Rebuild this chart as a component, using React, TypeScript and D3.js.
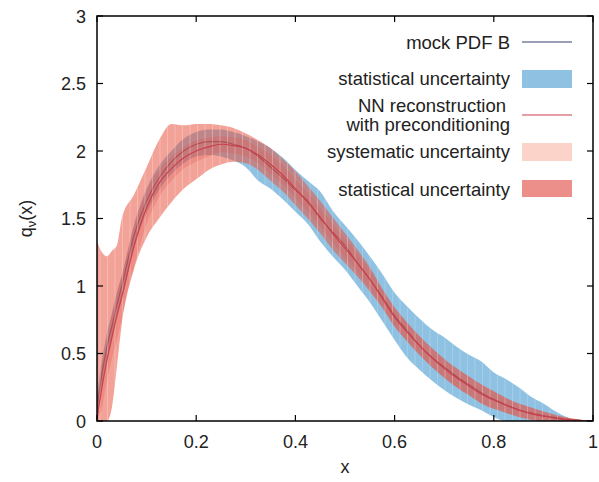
import React from "react";
import * as d3 from "d3";

const xs = [0, 0.01, 0.02, 0.03, 0.04, 0.05, 0.075, 0.1, 0.125, 0.15, 0.175, 0.2, 0.225, 0.25, 0.275, 0.3, 0.325, 0.35, 0.375, 0.4, 0.425, 0.45, 0.475, 0.5, 0.525, 0.55, 0.575, 0.6, 0.625, 0.65, 0.675, 0.7, 0.725, 0.75, 0.775, 0.8, 0.825, 0.85, 0.875, 0.9, 0.925, 0.95, 0.975, 1];

const mockPdf = [0.1, 0.35, 0.55, 0.7, 0.86, 1.0, 1.38, 1.63, 1.8, 1.92, 2.0, 2.05, 2.07, 2.07, 2.05, 2.02, 1.96, 1.88, 1.8, 1.71, 1.63, 1.5, 1.4, 1.3, 1.17, 1.05, 0.92, 0.78, 0.67, 0.56, 0.47, 0.4, 0.33, 0.27, 0.21, 0.16, 0.12, 0.085, 0.06, 0.04, 0.025, 0.012, 0.004, 0];

const nnCentral = [0.02, 0.25, 0.45, 0.62, 0.78, 0.92, 1.3, 1.58, 1.76, 1.87, 1.95, 2.0, 2.03, 2.05, 2.04, 2.02, 1.97, 1.9, 1.82, 1.72, 1.62, 1.51, 1.39, 1.28, 1.17, 1.05, 0.91, 0.77, 0.66, 0.56, 0.47, 0.39, 0.32, 0.26, 0.2, 0.155, 0.115, 0.08, 0.055, 0.035, 0.02, 0.01, 0.003, 0];

const blueHi = [0.2, 0.45, 0.65, 0.8, 0.95, 1.08, 1.46, 1.72, 1.89, 2.0, 2.09, 2.14, 2.16, 2.16, 2.14, 2.11, 2.07, 2.02, 1.95, 1.86, 1.78, 1.7, 1.56, 1.45, 1.34, 1.22, 1.09, 0.95, 0.85, 0.76, 0.68, 0.62, 0.55, 0.49, 0.44, 0.36, 0.31, 0.25, 0.18, 0.13, 0.07, 0.025, 0.005, 0];
const blueLo = [0, 0.25, 0.45, 0.6, 0.76, 0.9, 1.28, 1.54, 1.71, 1.83, 1.91, 1.96, 1.97, 1.96, 1.93, 1.88, 1.78, 1.72, 1.64, 1.55, 1.46, 1.33, 1.22, 1.12, 1.0, 0.88, 0.74, 0.6, 0.47, 0.38, 0.3, 0.23, 0.17, 0.12, 0.08, 0.03, 0, 0, 0, 0, 0, 0, 0, 0];

const sysHi = [1.33, 1.25, 1.22, 1.26, 1.3, 1.5, 1.68, 1.88, 2.08, 2.2, 2.19, 2.2, 2.2, 2.19, 2.17, 2.13, 2.08, 2.02, 1.94, 1.85, 1.74, 1.63, 1.51, 1.39, 1.27, 1.14, 0.98, 0.84, 0.73, 0.63, 0.54, 0.46, 0.39, 0.33, 0.27, 0.22, 0.17, 0.13, 0.1, 0.07, 0.045, 0.025, 0.01, 0];
const sysLo = [0, 0, 0, 0.1, 0.4, 0.72, 1.13, 1.36, 1.5, 1.62, 1.72, 1.79, 1.86, 1.9, 1.92, 1.91, 1.86, 1.78, 1.7, 1.6, 1.5, 1.39, 1.27, 1.17, 1.07, 0.96, 0.84, 0.7, 0.59, 0.49, 0.4, 0.32, 0.25, 0.19, 0.13, 0.09, 0.06, 0.03, 0.01, 0, 0, 0, 0, 0];

const redHi = [0.15, 0.4, 0.6, 0.78, 0.95, 1.08, 1.45, 1.7, 1.86, 1.96, 2.03, 2.08, 2.1, 2.11, 2.1, 2.08, 2.03, 1.97, 1.89, 1.79, 1.69, 1.58, 1.46, 1.35, 1.24, 1.12, 0.98, 0.84, 0.73, 0.63, 0.54, 0.46, 0.39, 0.33, 0.27, 0.22, 0.17, 0.13, 0.1, 0.07, 0.045, 0.025, 0.01, 0];
const redLo = [0, 0.1, 0.3, 0.46, 0.6, 0.76, 1.15, 1.46, 1.66, 1.78, 1.87, 1.92, 1.96, 1.99, 1.98, 1.96, 1.91, 1.83, 1.75, 1.65, 1.55, 1.44, 1.32, 1.21, 1.1, 0.98, 0.84, 0.7, 0.59, 0.49, 0.4, 0.32, 0.25, 0.19, 0.13, 0.09, 0.06, 0.03, 0.01, 0, 0, 0, 0, 0];

const xTicks = [0, 0.2, 0.4, 0.6, 0.8, 1];
const yTicks = [0, 0.5, 1, 1.5, 2, 2.5, 3];

const FONT = "'Liberation Sans', Arial, Helvetica, sans-serif";

export default function App() {
  const W = 599, H = 482;
  const L = 97, R = 593, T = 16, B = 421;
  const x = d3.scaleLinear().domain([0, 1]).range([L, R]);
  const y = d3.scaleLinear().domain([0, 3]).range([B, T]);

  const band = (lo: number[], hi: number[]) =>
    d3.area<number>()
      .x((_, i) => x(xs[i]))
      .y0((_, i) => y(lo[i]))
      .y1((_, i) => y(hi[i]))
      .curve(d3.curveMonotoneX)(xs) || "";
  const line = (v: number[]) =>
    d3.line<number>()
      .x((_, i) => x(xs[i]))
      .y((_, i) => y(v[i]))
      .curve(d3.curveMonotoneX)(xs) || "";

  const tickLen = 6;
  const legendTextX = 510;
  const swX = 522, swW = 50;
  const stripes = d3.range(L + 3, R, 7.5);
  const sysPath = band(sysLo, sysHi);
  const blueBandPath = band(blueLo, blueHi);

  return (
    <svg width={W} height={H} style={{ position: "absolute", left: 0, top: 0, background: "#fff" }} fontFamily={FONT}>
      <defs>
        <clipPath id="plotclip">
          <rect x={L} y={T} width={R - L} height={B - T} />
        </clipPath>
        <clipPath id="sysclip">
          <path d={sysPath} />
        </clipPath>
        <clipPath id="blueclip">
          <path d={blueBandPath} />
        </clipPath>
      </defs>
      <g clipPath="url(#plotclip)">
        <path d={blueBandPath} fill="#8fc2e2" />
        <g clipPath="url(#blueclip)">
          {stripes.map((s, i) => (
            <line key={"bs" + i} x1={s} x2={s} y1={T} y2={B} stroke="#ffffff" strokeOpacity={0.18} strokeWidth={1} />
          ))}
        </g>
        <path d={line(mockPdf)} fill="none" stroke="#34406e" strokeWidth={1.2} />
        <path d={sysPath} fill="#e85541" fillOpacity={0.55} />
        <path d={band(redLo, redHi)} fill="#e15a55" fillOpacity={0.3} />
        <g clipPath="url(#sysclip)">
          {stripes.map((s, i) => (
            <line key={"ss" + i} x1={s} x2={s} y1={T} y2={B} stroke="#ffffff" strokeOpacity={0.25} strokeWidth={1} />
          ))}
        </g>
        <path d={line(nnCentral)} fill="none" stroke="#c8404c" strokeWidth={1.2} />
      </g>

      {/* frame */}
      <rect x={L} y={T} width={R - L} height={B - T} fill="none" stroke="#000" strokeWidth={1.5} />
      {xTicks.map((t) => (
        <g key={"xt" + t}>
          <line x1={x(t)} x2={x(t)} y1={B} y2={B - tickLen} stroke="#000" strokeWidth={1.2} />
          <line x1={x(t)} x2={x(t)} y1={T} y2={T + tickLen} stroke="#000" strokeWidth={1.2} />
          <text x={x(t)} y={448} textAnchor="middle" fontSize={18} fill="#222">{String(t)}</text>
        </g>
      ))}
      {yTicks.map((t) => (
        <g key={"yt" + t}>
          <line x1={L} x2={L + tickLen} y1={y(t)} y2={y(t)} stroke="#000" strokeWidth={1.2} />
          <line x1={R} x2={R - tickLen} y1={y(t)} y2={y(t)} stroke="#000" strokeWidth={1.2} />
          <text x={86} y={y(t) + 6.5} textAnchor="end" fontSize={18} fill="#222">{String(t)}</text>
        </g>
      ))}
      <text x={345} y={473} textAnchor="middle" fontSize={18} fill="#222">x</text>
      <text transform={`translate(32, ${(T + B) / 2}) rotate(-90)`} textAnchor="middle" fontSize={18} fill="#222">
        q<tspan fontSize={13} dy={4}>ν</tspan><tspan dy={-4}>(x)</tspan>
      </text>

      {/* legend */}
      <text x={legendTextX} y={49} textAnchor="end" fontSize={18.5} fill="#222">mock PDF B</text>
      <line x1={swX} x2={swX + swW} y1={42} y2={42} stroke="#34406e" strokeWidth={1.2} />

      <text x={legendTextX} y={85} textAnchor="end" fontSize={18.5} fill="#222">statistical uncertainty</text>
      <rect x={swX} y={70} width={swW} height={18} fill="#8fc2e2" />

      <text x={legendTextX - 4} y={112} textAnchor="end" fontSize={18.5} fill="#222">NN reconstruction</text>
      <text x={legendTextX} y={131} textAnchor="end" fontSize={18.5} fill="#222">with preconditioning</text>
      <line x1={swX} x2={swX + swW} y1={115} y2={115} stroke="#c8404c" strokeWidth={1.2} />

      <text x={legendTextX} y={158} textAnchor="end" fontSize={18.5} fill="#222">systematic uncertainty</text>
      <rect x={swX} y={143} width={swW} height={18} fill="#fcd3c8" />

      <text x={legendTextX} y={196} textAnchor="end" fontSize={18.5} fill="#222">statistical uncertainty</text>
      <rect x={swX} y={180} width={swW} height={17} fill="#ec8f8a" />
    </svg>
  );
}
